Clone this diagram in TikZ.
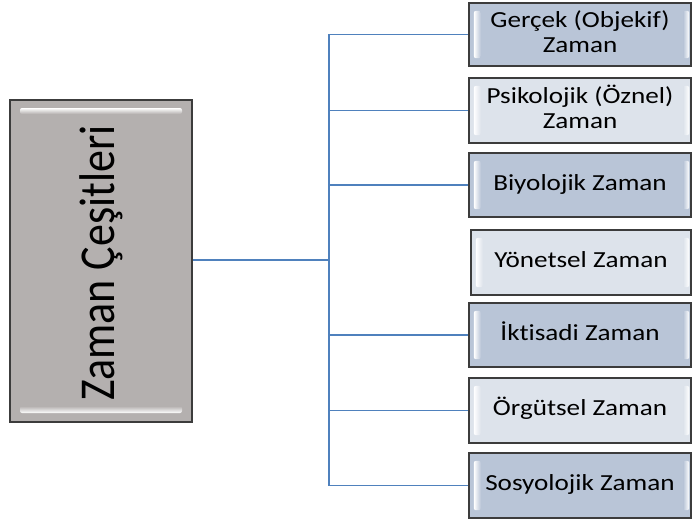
\documentclass[tikz,border=0pt]{standalone}
\usepackage{fontspec}
\newfontfamily\cf[Ligatures={CommonOff}]{Carlito}
\definecolor{edge}{HTML}{3C3C3C}
\definecolor{mainfill}{HTML}{B4B0AF}
\definecolor{darkfill}{HTML}{B9C5D7}
\definecolor{lightfill}{HTML}{DDE3EB}
\definecolor{conn}{HTML}{4F81BD}
\tikzset{
  sbox/.style={draw=edge, line width=2.3pt, minimum width=222pt, inner sep=0pt, font=\cf\fontsize{23}{25}\selectfont},
  darkbox/.style={sbox, fill=darkfill},
  lightbox/.style={sbox, fill=lightfill},
  mainbox/.style={draw=edge, line width=2.3pt, fill=mainfill, minimum width=182pt, minimum height=322pt, inner sep=0pt, font=\cf\fontsize{44}{48}\selectfont},
  link/.style={draw=conn, line width=1.9pt},
  mainlink/.style={draw=conn, line width=2.8pt}
}
\newcommand{\txt}[1]{\scalebox{1.18}[1]{\begin{tabular}{@{}c@{}}#1\end{tabular}}}
\newcommand{\bev}[2]{%
  \shade[left color=white, right color=#2, rounded corners=2pt]
    ([xshift=6pt,yshift=-9pt]#1.north west) rectangle ([xshift=13pt,yshift=9pt]#1.south west);
  \shade[left color=#2, right color=white, rounded corners=2pt]
    ([xshift=-9pt,yshift=-9pt]#1.north east) rectangle ([xshift=-3pt,yshift=9pt]#1.south east);}
\begin{document}
\begin{tikzpicture}[x=1pt,y=-1pt]
\useasboundingbox (0,0) rectangle (692,523);
\fill[white] (0,0) rectangle (692,523);

\node[mainbox] (m) at (101,261) {};
\shade[top color=white, bottom color=mainfill, rounded corners=2pt] (20,108) rectangle (182,114);
\shade[top color=mainfill, bottom color=white, rounded corners=2pt] (20,406) rectangle (182,413);
\node[font=\cf\fontsize{44}{48}\selectfont] (mt) at (101,263) {\rotatebox{90}{\scalebox{1}[1.14]{Zaman Çeşit\kern0pt{}leri}}};

\node[darkbox, minimum height=63pt] (n1) at (580,34.5) {};
\node[lightbox, minimum height=65pt] (n2) at (580,110.5) {};
\node[darkbox, minimum height=64pt] (n3) at (580,185) {};
\node[lightbox, minimum height=65pt, minimum width=220pt] (n4) at (581,262.5) {};
\node[darkbox, minimum height=64pt] (n5) at (580,335) {};
\node[lightbox, minimum height=65pt] (n6) at (580,410.5) {};
\node[darkbox, minimum height=65pt] (n7) at (580,485.5) {};

\bev{n1}{darkfill}
\bev{n2}{lightfill}
\bev{n3}{darkfill}
\bev{n4}{lightfill}
\bev{n5}{darkfill}
\bev{n6}{lightfill}
\bev{n7}{darkfill}

\node[font=\cf\fontsize{23}{25}\selectfont] (t1) at (n1.center) {\txt{Gerçek (Objekif)\\Zaman}};
\node[font=\cf\fontsize{23}{25}\selectfont] (t2) at (n2.center) {\txt{Psikolojik (Öznel)\\Zaman}};
\node[font=\cf\fontsize{23}{25}\selectfont] (t3) at (n3.center) {\txt{Biyolojik Zaman}};
\node[font=\cf\fontsize{23}{25}\selectfont] (t4) at (n4.center) {\txt{Yönetsel Zaman}};
\node[font=\cf\fontsize{23}{25}\selectfont] (t5) at (n5.center) {\txt{İkt\kern0pt{}isadi Zaman}};
\node[font=\cf\fontsize{23}{25}\selectfont] (t6) at (n6.center) {\txt{Örgütsel Zaman}};
\node[font=\cf\fontsize{23}{25}\selectfont] (t7) at (n7.center) {\txt{Sosyolojik Zaman}};

\coordinate (bus) at (329,260);
\draw[mainlink] (m.east |- bus) -- (bus);
\foreach \n in {n1,n2,n3,n5,n6,n7}
  \draw[link] (bus) |- (\n.west);
\end{tikzpicture}
\end{document}
